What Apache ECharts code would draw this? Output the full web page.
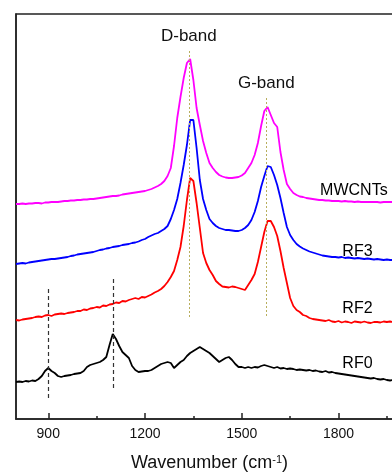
<!DOCTYPE html>
<html>
<head>
<meta charset="utf-8">
<title>Raman spectra</title>
<script src="https://cdn.jsdelivr.net/npm/echarts@6/dist/echarts.min.js"></script>
<style>
  html, body { margin: 0; padding: 0; background: #fff; }
  #chart { width: 392px; height: 473px; }
</style>
</head>
<body>
<div id="chart"></div>
<script>
// wavenumber grid, 800 - 1970 cm-1, every 10 cm-1
const wavenumber = [];
for (let w = 800; w <= 1970; w += 10) wavenumber.push(w);

// intensities (a.u., curves stacked with offset)
const mwcnts = [
  215, 215, 215.5, 215, 215.5, 215.5, 216, 216, 215.5, 216.5,
  216.5, 217, 217, 217, 217.5, 218, 218, 218.5, 218.5, 219,
  219, 219.5, 219.5, 220, 220, 220.5, 221, 221.5, 222, 222.5,
  223, 223, 223.5, 224.5, 225, 225.5, 226, 226.5, 227, 227.5,
  228, 229, 230, 231.5, 233, 235, 238, 243, 251, 273,
  301, 322, 341, 356, 360, 339, 311, 294, 278, 266,
  256, 251, 247, 244, 242.5, 241.5, 241, 241, 241.5, 242,
  243.5, 246, 251, 256, 264, 276, 293, 308, 312, 304,
  296, 292, 267, 249, 235, 230, 226, 224, 222.5, 222,
  221, 220.5, 220, 219.5, 219, 219, 218.5, 218.5, 218, 218,
  218, 217.5, 218, 217.5, 217.5, 217, 217.5, 217, 217, 217,
  217, 217, 217, 216.5, 217, 217, 217, 217
];
const rf3 = [
  155, 155.5, 156, 155.5, 156.5, 157, 157.5, 158, 158.5, 159,
  159.5, 160, 160, 160.5, 161, 161.5, 162, 163, 163.5, 164.5,
  165, 165.5, 166, 166.5, 167, 168, 169, 169.5, 170.5, 171,
  172, 172.5, 173, 174, 174.5, 175, 176, 176.5, 177.5, 179,
  180, 182, 183.5, 185, 186, 188, 190, 193, 200, 209,
  220, 236, 254, 274, 299, 299, 271, 239, 220, 209,
  200, 196, 193, 191, 190, 189, 189, 188.5, 188, 188,
  189, 191, 194, 199, 207, 218, 232, 243, 253, 252,
  244, 234, 221, 206, 192, 184, 179, 175, 172.5, 170.5,
  169, 167.5, 166.5, 165.5, 164.5, 163.5, 163, 162.5, 162, 162,
  161.5, 162, 161, 161.5, 161, 160.5, 161, 160.5, 160, 160.5,
  160, 159.5, 160, 159.5, 159, 159.5, 159, 159
];
const rf2 = [
  99, 98.5, 99.5, 100, 100.5, 101, 102, 102.5, 102, 103.5,
  104, 103, 104.5, 105, 105.5, 105, 106, 106.5, 107, 108,
  108, 109.5, 109, 110.5, 111, 112, 111.5, 113.5, 113, 114.5,
  115, 116.5, 116, 118, 117.5, 119, 120, 121, 120, 122,
  121.5, 123, 124.5, 126.5, 128, 130, 133, 137, 142, 148,
  159, 172, 193, 219, 241, 238, 216, 191, 166, 156,
  149, 144, 138, 135, 132.5, 132, 131.5, 132.5, 132, 131,
  130, 129, 134, 139, 145, 157, 172, 187, 198, 198,
  192, 183, 168, 151, 136, 121, 113, 109, 107, 104,
  103, 101, 100, 99.5, 99, 98.5, 98, 99, 97.5, 97,
  98, 96.5, 97.5, 97, 96, 97.5, 97, 96.5, 97.5, 96.5,
  96, 97, 97, 96.5, 97.5, 97, 97.5, 97
];
const rf0 = [
  37, 37.5, 37, 38, 37.5, 38.5, 38, 40, 43, 48,
  51, 48, 46, 43, 42, 43, 43.5, 44, 45, 45.5,
  46, 48, 52, 54, 55, 56, 57, 59, 62, 74,
  85, 80, 73, 67, 64, 61, 53, 49, 47, 47.5,
  48, 48, 49, 51, 53, 55, 56, 57, 56, 51,
  54, 57, 59, 63, 66, 68, 70, 72, 70, 68,
  66, 63, 60, 57, 59, 61, 62, 59, 55, 52,
  52, 51, 52, 51, 52, 51.5, 53, 54, 53, 52,
  51, 52, 50.5, 51, 50, 50.5, 50, 49, 49.5, 49,
  48.5, 49, 48, 48.5, 47.5, 47, 48, 46.5, 47, 46,
  45.5, 45, 44.5, 44, 43.5, 43, 42.5, 42, 41.5, 41,
  40.5, 41, 40, 39.5, 40, 39, 38.5, 39
];

const seriesNames = ["MWCNTs", "RF3", "RF2", "RF0"];
const seriesColors = ["#ff00ff", "#0000ff", "#ff0000", "#000000"];
const majorTicks = [900, 1200, 1500, 1800];
const minorTicks = [1050, 1350, 1650, 1950];
const bandPositions = [1336, 1576]; // D-band, G-band
const markerPositions = [900, 1100]; // RF0 extra peaks

const font = "'Liberation Sans', Arial, sans-serif";
const pairs = (arr) => wavenumber.map((w, i) => [w, arr[i]]);

const nameLabel = (text, x, y) => ({
  coord: [x, y],
  symbol: "circle",
  symbolSize: 0,
  label: {
    show: true,
    position: "right",
    distance: 0,
    formatter: text,
    color: "#000",
    fontSize: 16,
    fontFamily: font,
  },
});

const chart = echarts.init(document.getElementById("chart"), null, { renderer: "canvas" });
chart.setOption({
  animation: false,
  backgroundColor: "#fff",
  grid: {
    left: 16,
    top: 14,
    width: 387,
    height: 405,
    outerBoundsMode: "none",
    show: true,
    borderColor: "#222",
    borderWidth: 1.5,
  },
  xAxis: [
    {
      type: "value",
      min: 800,
      max: 2000,
      position: "bottom",
      splitLine: { show: false },
      axisLine: { show: true, lineStyle: { color: "#222", width: 1.5 } },
      axisTick: {
        show: true,
        inside: true,
        length: 6,
        customValues: majorTicks,
        lineStyle: { color: "#222", width: 1.5 },
      },
      axisLabel: {
        customValues: majorTicks,
        formatter: (v) => String(v),
        margin: 8,
        color: "#111",
        fontSize: 14,
        fontFamily: font,
      },
      name: "Wavenumber (cm{sup|-1})",
      nameLocation: "middle",
      nameGap: 35,
      nameTextStyle: {
        color: "#111",
        fontSize: 18,
        fontFamily: font,
        rich: {
          sup: { fontSize: 11, fontFamily: font, color: "#111", verticalAlign: "top", padding: [0, 0, 7, 0] },
        },
      },
    },
    {
      // minor ticks
      type: "value",
      min: 800,
      max: 2000,
      position: "bottom",
      splitLine: { show: false },
      axisLine: { show: false },
      axisLabel: { show: false },
      axisTick: {
        show: true,
        inside: true,
        length: 3,
        customValues: minorTicks,
        lineStyle: { color: "#222", width: 1.5 },
      },
    },
  ],
  yAxis: {
    type: "value",
    min: 0,
    max: 405,
    axisLine: { show: true, lineStyle: { color: "#222", width: 1.5 } },
    axisTick: { show: false },
    axisLabel: { show: false },
    splitLine: { show: false },
  },
  series: [
    {
      name: seriesNames[0],
      type: "line",
      data: pairs(mwcnts),
      showSymbol: false,
      lineStyle: { color: seriesColors[0], width: 1.8 },
      itemStyle: { color: seriesColors[0] },
      markPoint: { data: [nameLabel(seriesNames[0], 1743, 228)] },
      markLine: {
        silent: true,
        symbol: "none",
        lineStyle: { color: "#b8ae5c", type: [2, 2], width: 1 },
        label: {
          show: true,
          position: "end",
          distance: 5,
          color: "#111",
          fontSize: 17,
          fontFamily: font,
        },
        data: [
          [{ coord: [bandPositions[0], 102] }, { coord: [bandPositions[0], 369], label: { formatter: "D-band" } }],
          [{ coord: [bandPositions[1], 103] }, { coord: [bandPositions[1], 322], label: { formatter: "G-band" } }],
        ],
      },
    },
    {
      name: seriesNames[1],
      type: "line",
      data: pairs(rf3),
      showSymbol: false,
      lineStyle: { color: seriesColors[1], width: 1.8 },
      itemStyle: { color: seriesColors[1] },
      markPoint: { data: [nameLabel(seriesNames[1], 1812, 167)] },
    },
    {
      name: seriesNames[2],
      type: "line",
      data: pairs(rf2),
      showSymbol: false,
      lineStyle: { color: seriesColors[2], width: 1.8 },
      itemStyle: { color: seriesColors[2] },
      markPoint: { data: [nameLabel(seriesNames[2], 1812, 110)] },
    },
    {
      name: seriesNames[3],
      type: "line",
      data: pairs(rf0),
      showSymbol: false,
      lineStyle: { color: seriesColors[3], width: 1.8 },
      itemStyle: { color: seriesColors[3] },
      markPoint: { data: [nameLabel(seriesNames[3], 1812, 55)] },
      markLine: {
        silent: true,
        symbol: "none",
        lineStyle: { color: "#333", type: [4, 3], width: 1.2 },
        label: { show: false },
        data: [
          [{ coord: [markerPositions[0], 130] }, { coord: [markerPositions[0], 21] }],
          [{ coord: [markerPositions[1], 140] }, { coord: [markerPositions[1], 31] }],
        ],
      },
    },
  ],
});
</script>
</body>
</html>
